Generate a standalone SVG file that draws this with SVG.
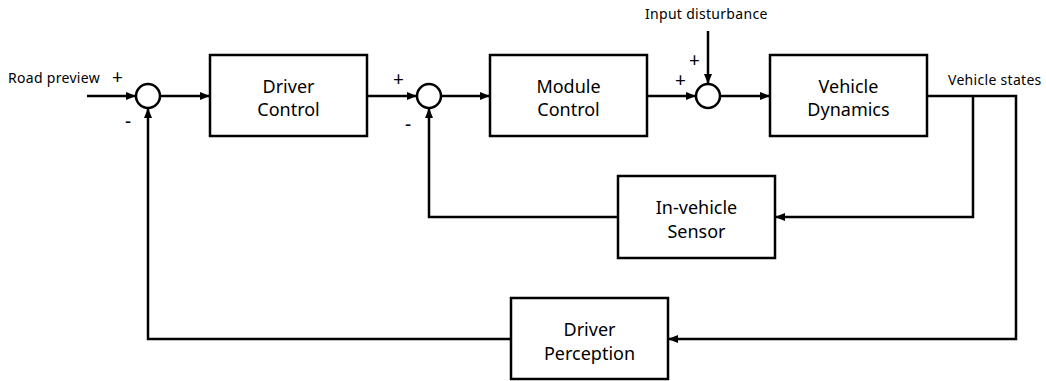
<svg xmlns="http://www.w3.org/2000/svg" width="1046" height="381" viewBox="0 0 1046 381">
<style>
.box{fill:#fff;stroke:#000;stroke-width:2.5}
.sum{fill:#fff;stroke:#000;stroke-width:2.5}
.ln{fill:none;stroke:#000;stroke-width:2.5}
.t{font-family:"Noto Sans","Open Sans",sans-serif;font-size:18px;fill:#000;text-anchor:middle}
.s{font-family:"Noto Sans","Open Sans",sans-serif;font-size:14px;letter-spacing:0.3px;fill:#000}
.sign{font-family:"Noto Sans","Open Sans",sans-serif;font-size:19px;fill:#000}
</style>
<defs>
<marker id="ah" markerWidth="10" markerHeight="8" refX="9" refY="4" orient="auto" markerUnits="userSpaceOnUse">
<path d="M0,0 L10,4 L0,8 Z" fill="#000"/>
</marker>
</defs>
<rect width="1046" height="381" fill="#fff"/>
<g id="connectors">
<path class="ln" d="M87,96 H135" marker-end="url(#ah)"/>
<path class="ln" d="M160,96 H209" marker-end="url(#ah)"/>
<path class="ln" d="M367,96 H416" marker-end="url(#ah)"/>
<path class="ln" d="M441,96 H489" marker-end="url(#ah)"/>
<path class="ln" d="M647,96 H695" marker-end="url(#ah)"/>
<path class="ln" d="M720,96 H769" marker-end="url(#ah)"/>
<path class="ln" d="M708,31 V83" marker-end="url(#ah)"/>
<path class="ln" d="M927,96 H1016 V339 H669" marker-end="url(#ah)"/>
<path class="ln" d="M973,96 V217 H776" marker-end="url(#ah)"/>
<path class="ln" d="M618,217 H429 V109" marker-end="url(#ah)"/>
<path class="ln" d="M511,339 H148 V109" marker-end="url(#ah)"/>
</g>
<g id="sum1"><circle class="sum" cx="148" cy="96" r="12"/></g>
<g id="sum2"><circle class="sum" cx="429" cy="96" r="12"/></g>
<g id="sum3"><circle class="sum" cx="708" cy="96" r="12"/></g>
<g id="driver-control">
<rect class="box" x="210" y="55" width="157" height="81"/>
<text class="t" x="288.5" y="93">Driver</text>
<text class="t" x="288.5" y="116">Control</text>
</g>
<g id="module-control">
<rect class="box" x="490" y="55" width="157" height="81"/>
<text class="t" x="568.5" y="93">Module</text>
<text class="t" x="568.5" y="116">Control</text>
</g>
<g id="vehicle-dynamics">
<rect class="box" x="770" y="55" width="157" height="81"/>
<text class="t" x="848.5" y="93">Vehicle</text>
<text class="t" x="848.5" y="116">Dynamics</text>
</g>
<g id="in-vehicle-sensor">
<rect class="box" x="618" y="176" width="157" height="82"/>
<text class="t" x="696.5" y="214">In-vehicle</text>
<text class="t" x="696.5" y="238">Sensor</text>
</g>
<g id="driver-perception">
<rect class="box" x="511" y="298" width="157" height="81"/>
<text class="t" x="589.5" y="336">Driver</text>
<text class="t" x="589.5" y="360">Perception</text>
</g>
<g id="labels">
<text class="s" x="8" y="83">Road preview</text>
<text class="s" x="645" y="19">Input disturbance</text>
<text class="s" x="948" y="85">Vehicle states</text>
<text class="sign" x="112" y="84">+</text>
<text class="sign" x="125" y="128">-</text>
<text class="sign" x="393" y="86">+</text>
<text class="sign" x="405" y="131">-</text>
<text class="sign" x="675" y="87">+</text>
<text class="sign" x="689" y="67">+</text>
</g>
</svg>
